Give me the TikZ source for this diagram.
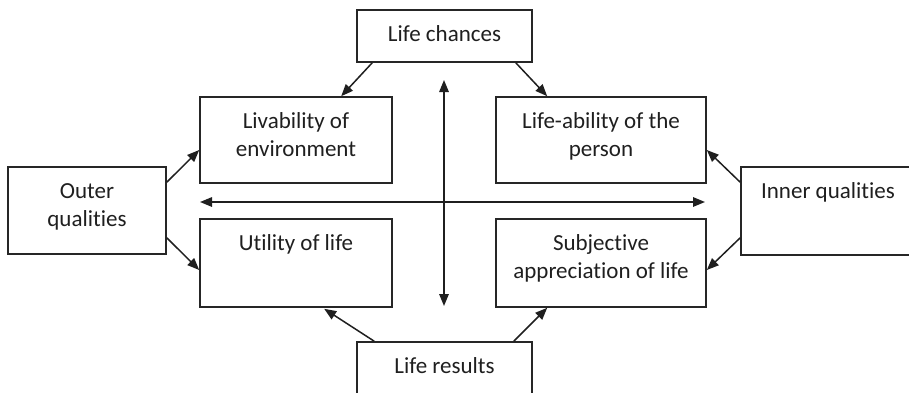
\documentclass[tikz,border=0pt]{standalone}
\usepackage{fontspec}
\setmainfont[Ligatures={NoCommon}]{Carlito}
\usetikzlibrary{arrows.meta,calc}
\newcommand\boxtext[3]{\parbox[c][#2pt][t]{#1pt}{\centering\rule{0pt}{31.5pt}#3}}
\begin{document}
\begin{tikzpicture}[x=1pt,y=-1pt,
  box/.style={draw=black!85, line width=1.6pt, inner sep=0pt, text=black!88,
    font=\fontsize{23pt}{28pt}\selectfont},
  tip/.style={Triangle[length=12pt,width=9.5pt]},
  arr/.style={draw=black!88, line width=1.5pt, -{Triangle[length=12pt,width=9.5pt]}},
  darr/.style={draw=black!88, line width=1.5pt, {Triangle[length=12pt,width=9.5pt]}-{Triangle[length=12pt,width=9.5pt]}}]
\useasboundingbox (0,0) rectangle (909,392);
\node[box] (chances) at (444.5,36) {\boxtext{175}{52}{Life chances}};
\node[box] (liv) at (296,140) {\boxtext{192}{86}{Livability of\\environment}};
\node[box] (abil) at (601,140) {\boxtext{210}{86}{Life-ability of the\\person}};
\node[box] (outer) at (87,210.5) {\boxtext{158}{87}{Outer\\qualities}};
\node[box] (inner) at (828,211) {\boxtext{174}{88}{Inner qualities}};
\node[box] (util) at (296,263) {\boxtext{192}{88}{Utility of life}};
\node[box] (subj) at (601,263) {\boxtext{210}{88}{Subjective\\appreciation of life}};
\node[box] (results) at (444.5,368) {\boxtext{175}{52}{Life results}};
\coordinate (vt) at (444,80);
\coordinate (vb) at (444,306);
\coordinate (hl) at (200,202);
\coordinate (hr) at (705,202);
\draw[darr] (vt) -- (vb);
\draw[darr] (hl) -- (hr);
\draw[arr] ($(chances.south west)+(16,0)$) -- ($(liv.north west)+(142,0)$);
\draw[arr] ($(chances.south east)+(-17,0)$) -- ($(abil.north west)+(52,0)$);
\draw[arr] ($(outer.north east)+(0,16)$) -- ($(liv.west)+(0,10)$);
\draw[arr] ($(outer.south east)+(0,-17)$) -- ($(util.west)+(0,7)$);
\draw[arr] ($(inner.north west)+(0,16)$) -- ($(abil.east)+(0,10)$);
\draw[arr] ($(inner.south west)+(0,-18)$) -- ($(subj.east)+(0,7)$);
\draw[arr] ($(results.north west)+(18,0)$) -- ($(util.south west)+(125,1)$);
\draw[arr] ($(results.north east)+(-19,0)$) -- ($(subj.south west)+(52,0)$);
\end{tikzpicture}
\end{document}
